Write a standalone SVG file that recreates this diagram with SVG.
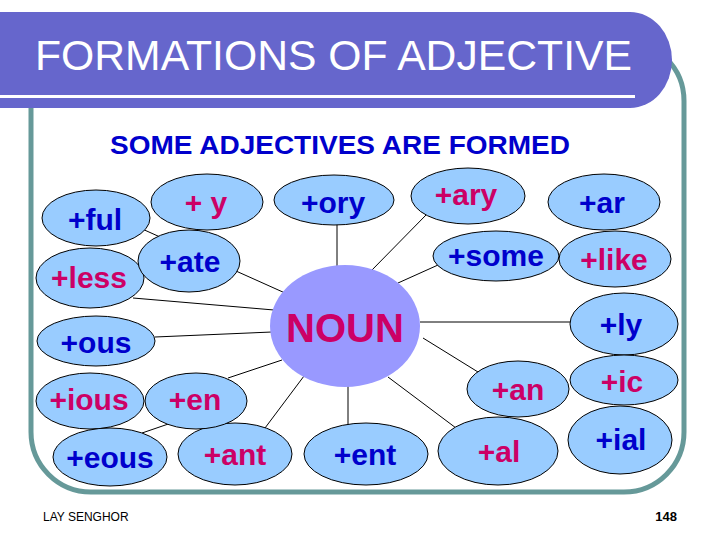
<svg xmlns="http://www.w3.org/2000/svg" width="720" height="540" viewBox="0 0 720 540">
<style>
.node ellipse{fill:#99CCFF;stroke:#000;stroke-width:1}
.lbl{font-family:"Liberation Sans",Arial,sans-serif;font-weight:bold;font-size:30px;text-anchor:middle}
.b{fill:#0000CC}
.p{fill:#CC0066}
#connectors line{stroke:#000;stroke-width:1}
</style>
<rect width="720" height="540" fill="#fff"/>
<rect id="frame" x="31" y="41" width="653" height="451" rx="60" ry="60" fill="none" stroke="#669999" stroke-width="5"/>
<g id="title">
<path d="M0,12 H630 A42,48 0 0 1 672,60 A42,48 0 0 1 630,108 H0 Z" fill="#6666CC"/>
<rect x="0" y="95" width="635" height="3" fill="#fff"/>
<text x="35" y="70" font-family="&quot;Liberation Sans&quot;,Arial,sans-serif" font-size="42" fill="#fff" textLength="597" lengthAdjust="spacingAndGlyphs">FORMATIONS OF ADJECTIVE</text>
</g>
<text id="subtitle" x="110" y="154" font-family="&quot;Liberation Sans&quot;,Arial,sans-serif" font-weight="bold" font-size="26" fill="#0000CC" textLength="460" lengthAdjust="spacingAndGlyphs">SOME ADJECTIVES ARE FORMED</text>
<g id="connectors">
<line x1="140" y1="228" x2="285" y2="293"/>
<line x1="133" y1="298" x2="274" y2="310"/>
<line x1="155" y1="337" x2="272" y2="332"/>
<line x1="337" y1="224" x2="337" y2="268"/>
<line x1="427" y1="214" x2="371" y2="271"/>
<line x1="438" y1="265" x2="398" y2="283"/>
<line x1="420" y1="322" x2="572" y2="322"/>
<line x1="423" y1="338" x2="478" y2="372"/>
<line x1="388" y1="377" x2="456" y2="428"/>
<line x1="348" y1="386" x2="348" y2="425"/>
<line x1="304" y1="376" x2="265" y2="428"/>
<line x1="282" y1="360" x2="228" y2="378"/>
<line x1="142" y1="433" x2="180" y2="420"/>
</g>
<g id="n-ful" class="node"><ellipse cx="96" cy="218" rx="54" ry="28"/><text class="lbl b" x="95" y="230">+ful</text></g>
<g id="n-y" class="node"><ellipse cx="207" cy="202" rx="56" ry="28"/><text class="lbl p" x="206" y="213">+ y</text></g>
<g id="n-less" class="node"><ellipse cx="90" cy="278" rx="54" ry="30"/><text class="lbl p" x="89" y="288">+less</text></g>
<g id="n-ate" class="node"><ellipse cx="189" cy="261" rx="51" ry="31"/><text class="lbl b" x="190" y="272">+ate</text></g>
<g id="n-ous" class="node"><ellipse cx="96" cy="341" rx="59" ry="25"/><text class="lbl b" x="96" y="353">+ous</text></g>
<g id="n-ory" class="node"><ellipse cx="334" cy="200" rx="60" ry="25"/><text class="lbl b" x="333" y="213">+ory</text></g>
<g id="n-ary" class="node"><ellipse cx="468" cy="196" rx="57" ry="28"/><text class="lbl p" x="466" y="205">+ary</text></g>
<g id="n-ar" class="node"><ellipse cx="604" cy="202" rx="56" ry="28"/><text class="lbl b" x="602" y="213">+ar</text></g>
<g id="n-some" class="node"><ellipse cx="496" cy="256" rx="63" ry="25"/><text class="lbl b" x="496" y="266">+some</text></g>
<g id="n-like" class="node"><ellipse cx="615" cy="259" rx="56" ry="28"/><text class="lbl p" x="614" y="270">+like</text></g>
<g id="n-ly" class="node"><ellipse cx="624" cy="324" rx="54" ry="31"/><text class="lbl b" x="621" y="335">+ly</text></g>
<g id="n-ic" class="node"><ellipse cx="624" cy="380" rx="54" ry="25"/><text class="lbl p" x="622" y="392">+ic</text></g>
<g id="n-ial" class="node"><ellipse cx="620" cy="440" rx="52" ry="34"/><text class="lbl b" x="621" y="450">+ial</text></g>
<g id="n-an" class="node"><ellipse cx="518" cy="389" rx="51" ry="28"/><text class="lbl p" x="518" y="400">+an</text></g>
<g id="n-al" class="node"><ellipse cx="498" cy="451" rx="60" ry="34"/><text class="lbl p" x="499" y="462">+al</text></g>
<g id="n-ent" class="node"><ellipse cx="366" cy="454" rx="62" ry="31"/><text class="lbl b" x="365" y="465">+ent</text></g>
<g id="n-ant" class="node"><ellipse cx="235" cy="454" rx="57" ry="31"/><text class="lbl p" x="235" y="465">+ant</text></g>
<g id="n-en" class="node"><ellipse cx="196" cy="401" rx="51" ry="28"/><text class="lbl p" x="195" y="410">+en</text></g>
<g id="n-ious" class="node"><ellipse cx="90" cy="401" rx="54" ry="28"/><text class="lbl p" x="89" y="410">+ious</text></g>
<g id="n-eous" class="node"><ellipse cx="110" cy="457" rx="57" ry="29"/><text class="lbl b" x="110" y="468">+eous</text></g>
<g id="n-noun"><ellipse cx="345" cy="326" rx="75" ry="61" fill="#9999FF"/><text x="345" y="342" font-family="&quot;Liberation Sans&quot;,Arial,sans-serif" font-weight="bold" font-size="40" fill="#CC0066" text-anchor="middle">NOUN</text></g>
<text id="author" x="43" y="521" font-family="&quot;Liberation Sans&quot;,Arial,sans-serif" font-size="12" fill="#000">LAY SENGHOR</text>
<text id="page" x="677" y="521" font-family="&quot;Liberation Sans&quot;,Arial,sans-serif" font-weight="bold" font-size="13" fill="#000" text-anchor="end">148</text>
</svg>
